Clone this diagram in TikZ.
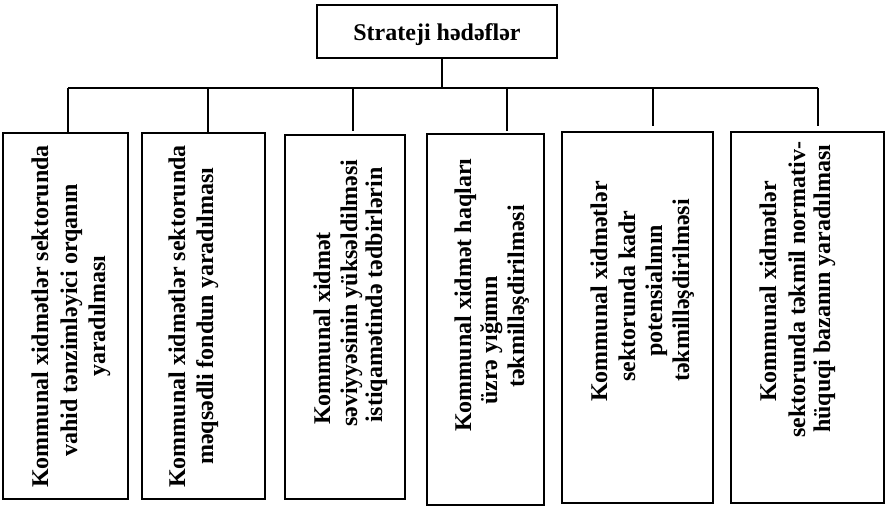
\documentclass[tikz,border=0pt]{standalone}
\usepackage{fontspec}
\setmainfont{Liberation Serif}
\begin{document}
\begin{tikzpicture}[x=1pt,y=-1pt,
  frame/.style={draw=black,line width=1.6pt,inner sep=0pt,outer sep=0pt,fill=white},
  link/.style={draw=black,line width=1.5pt},
  vtxt/.style={rotate=90,anchor=base west,inner sep=0pt,font=\fontsize{24}{28}\selectfont\bfseries},
  ttl/.style={anchor=base,inner sep=0pt,font=\fontsize{24}{28}\selectfont\bfseries}]
\useasboundingbox[fill=white] (0,0) rectangle (886,506);
% top box
\node[frame,minimum width=240pt,minimum height=53pt] (top) at (437,31.5) {};
\node[ttl] (toptext) at (437,40) {Strateji hədəflər};
% boxes
\node[frame,minimum width=125pt,minimum height=366pt] (b1) at (65.5,316) {};
\node[frame,minimum width=123pt,minimum height=366pt] (b2) at (203.5,316) {};
\node[frame,minimum width=120pt,minimum height=364pt] (b3) at (345,317) {};
\node[frame,minimum width=117pt,minimum height=371pt] (b4) at (485.5,319.5) {};
\node[frame,minimum width=151pt,minimum height=371pt] (b5) at (637.5,317.5) {};
\node[frame,minimum width=153pt,minimum height=371pt] (b6) at (807.5,317.5) {};
% connectors
\coordinate (hub) at (442,88);
\coordinate (d1) at (68,88);
\coordinate (d2) at (208,88);
\coordinate (d3) at (353,88);
\coordinate (d4) at (507,88);
\coordinate (d5) at (653,88);
\coordinate (d6) at (818,88);
\draw[link] (top.south -| hub) -- (hub);
\draw[link] (d1) -- (d6);
\draw[link] (d1) -- (d1 |- b1.north);
\draw[link] (d2) -- (d2 |- b2.north);
\draw[link,shorten >=4pt] (d3) -- (d3 |- b3.north);
\draw[link,shorten >=3pt] (d4) -- (d4 |- b4.north);
\draw[link,shorten >=6pt] (d5) -- (d5 |- b5.north);
\draw[link,shorten >=6pt] (d6) -- (d6 |- b6.north);
% texts box 1
\node[vtxt] (t11) at (48,488) {Kommunal xidmətlər sektorunda};
\node[vtxt] (t12) at (77,457) {vahid tənzimləyici orqanın};
\node[vtxt] (t13) at (105,377) {yaradılması};
% box 2
\node[vtxt] (t21) at (185,488) {Kommunal xidmətlər sektorunda};
\node[vtxt] (t22) at (213,465) {məqsədli fondun yaradılması};
% box 3
\node[vtxt] (t31) at (330,425) {Kommunal xidmət};
\node[vtxt] (t32) at (357,427) {səviyyəsinin yüksəldilməsi};
\node[vtxt] (t33) at (382,423) {istiqamətində tədbirlərin};
% box 4
\node[vtxt] (t41) at (471,432) {Kommunal xidmət haqları};
\node[vtxt] (t42) at (497,405) {üzrə yığımın};
\node[vtxt] (t43) at (524,388) {təkmilləşdirilməsi};
% box 5
\node[vtxt] (t51) at (607,402) {Kommunal xidmətlər};
\node[vtxt] (t52) at (635,382) {sektorunda kadr};
\node[vtxt] (t53) at (662,357) {potensialının};
\node[vtxt] (t54) at (689,382) {təkmilləşdirilməsi};
% box 6
\node[vtxt] (t61) at (776,402) {Kommunal xidmətlər};
\node[vtxt] (t62) at (805,438) {sektorunda təkmil normativ-};
\node[vtxt] (t63) at (830,433) {hüquqi bazanın yaradılması};
\end{tikzpicture}
\end{document}
